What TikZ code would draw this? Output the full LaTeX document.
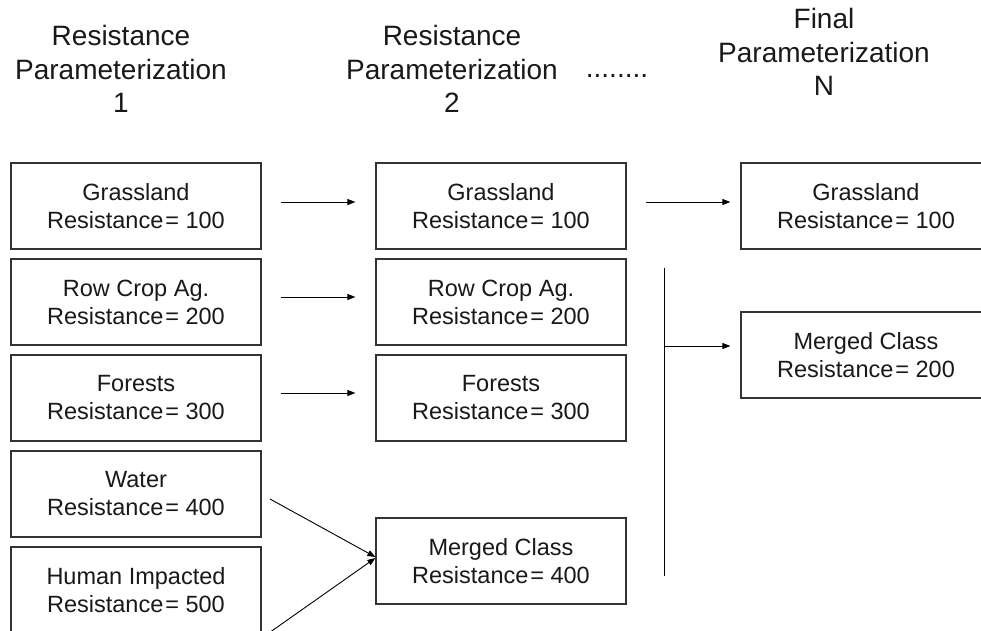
\documentclass[tikz,border=0pt]{standalone}
\usepackage{fontspec}
\setmainfont{Liberation Sans}
\usetikzlibrary{arrows.meta}
\newcommand{\resq}{Resistance\hspace{2pt}=\ }
\begin{document}
\begin{tikzpicture}[x=1pt,y=-1pt,
  box/.style={draw=black!80,line width=1.2pt,minimum width=250pt,minimum height=86pt,
    inner sep=0pt,align=center,font=\fontsize{23.5}{28}\selectfont,text=black!90},
  title/.style={align=center,font=\fontsize{28}{33.5}\selectfont,inner sep=0pt,text=black!90},
  conn/.style={draw=black,line width=0.9pt,-{Triangle[length=8pt,width=6pt]}},
  plain/.style={draw=black,line width=0.9pt}]
\clip (0,0) rectangle (981,630);
\fill[white] (0,0) rectangle (981,630);
% titles
\node[title] (t1) at (121,69) {Resistance\\Parameterization\\1};
\node[title] (t2) at (452,69) {Resistance\\Parameterization\\2};
\node[title] (t3) at (824,52) {Final\\Parameterization\\N};
\node[font=\fontsize{28}{30}\selectfont,inner sep=0pt,anchor=base,text=black!90] (dots) at (617,77) {........};
% column 1
\node[box] (a1) at (136,206) {Grassland\\\resq 100};
\node[box] (a2) at (136,302) {Row Crop Ag.\\\resq 200};
\node[box] (a3) at (136,398) {Forests\\\resq 300};
\node[box] (a4) at (136,494) {Water\\\resq 400};
\node[box] (a5) at (136,590) {Human Impacted\\\resq 500};
% column 2
\node[box] (b1) at (501,206) {Grassland\\\resq 100};
\node[box] (b2) at (501,302) {Row Crop Ag.\\\resq 200};
\node[box] (b3) at (501,398) {Forests\\\resq 300};
\node[box] (b4) at (501,561) {Merged Class\\\resq 400};
% column 3
\node[box] (c1) at (866,206) {Grassland\\\resq 100};
\node[box] (c2) at (866,355) {Merged Class\\\resq 200};
% connectors
\draw[conn,shorten <=19pt,shorten >=20pt] ([yshift=4pt]a1.east) -- ([yshift=4pt]b1.west);
\draw[conn,shorten <=19pt,shorten >=20pt] ([yshift=5pt]a2.east) -- ([yshift=5pt]b2.west);
\draw[conn,shorten <=19pt,shorten >=20pt] ([yshift=5pt]a3.east) -- ([yshift=5pt]b3.west);
\draw[conn,shorten <=19pt,shorten >=10pt] ([yshift=4pt]b1.east) -- ([yshift=4pt]c1.west);
\coordinate (wst) at (270,499);
\coordinate (hst) at (266,635);
\draw[conn] (wst) -- ([yshift=4pt]b4.west);
\draw[conn] (hst) -- ([yshift=3pt]b4.west);
\coordinate (vtop) at (664,268);
\coordinate (vbot) at (664,576);
\coordinate (vmid) at (664,346);
\draw[plain] (vtop) -- (vbot);
\draw[conn,shorten >=10pt] (vmid) -- (vmid -| c2.west);
\end{tikzpicture}
\end{document}
